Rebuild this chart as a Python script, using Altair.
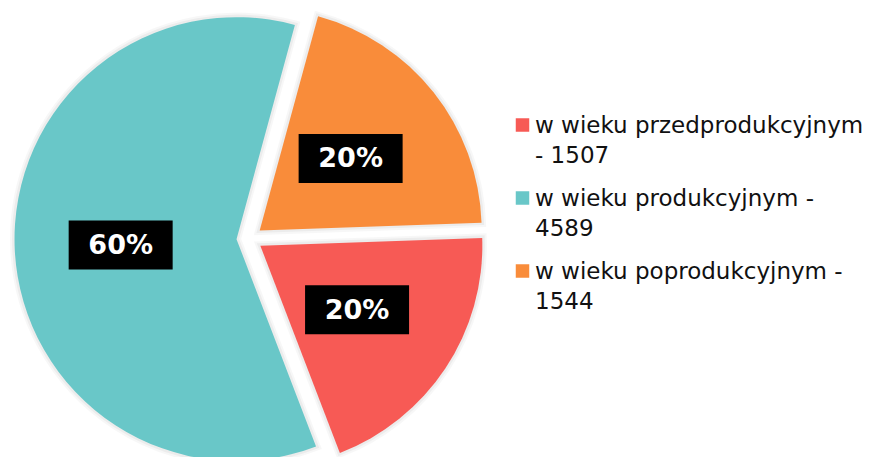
import math
import altair as alt
import pandas as pd

# ---- data ----
categories = ["w wieku przedprodukcyjnym", "w wieku produkcyjnym", "w wieku poprodukcyjnym"]
values = [1507, 4589, 1544]
legend_labels = [
    "w wieku przedprodukcyjnym\n- 1507",
    "w wieku produkcyjnym -\n4589",
    "w wieku poprodukcyjnym -\n1544",
]
colors = ["#F75A55", "#69C7C8", "#F98C3A"]

# ---- layout constants (pixels) ----
W, H = 867, 449
CX, CY = 241.5, 230.5   # pie centre
R = 222                 # pie radius
D = 13                  # explode distance
LR = 116                # label distance from slice centre
BW, BH = 104, 49        # label box size
START = math.radians(88)

df = pd.DataFrame({
    "category": categories,
    "value": values,
    "order": list(range(len(categories))),
    "legend": legend_labels,
})

base = alt.Chart(df).transform_joinaggregate(
    total="sum(value)"
).transform_window(
    cum="sum(value)", sort=[alt.SortField("order")], frame=[None, 0]
).transform_calculate(
    f1="datum.cum / datum.total",
    f0="(datum.cum - datum.value) / datum.total",
    pct="datum.value / datum.total",
).transform_calculate(
    mid=f"{START} + PI*(datum.f0 + datum.f1)",
).transform_calculate(
    cx=f"{CX} + {D}*sin(datum.mid)",
    cy=f"{CY} - {D}*cos(datum.mid)",
).transform_calculate(
    lx=f"datum.cx + {LR}*sin(datum.mid)",
    ly=f"datum.cy - {LR}*cos(datum.mid)",
    pct_label="format(datum.pct, '.0%')",
).transform_calculate(
    bx0=f"datum.lx - {BW/2}", bx1=f"datum.lx + {BW/2}",
    by0=f"datum.ly - {BH/2}", by1=f"datum.ly + {BH/2}",
)

theta_scale = alt.Scale(domain=[0, 1], range=[START, START + 2 * math.pi])
color_scale = alt.Scale(domain=categories, range=colors)

arc_enc = dict(
    x=alt.X("cx:Q", scale=None),
    y=alt.Y("cy:Q", scale=None),
    theta=alt.Theta("f0:Q", scale=theta_scale),
    theta2="f1:Q",
)

shadow1 = base.mark_arc(radius=R, fillOpacity=0, stroke="#000000",
                        strokeWidth=9, strokeOpacity=0.03).encode(**arc_enc)
shadow2 = base.mark_arc(radius=R, fillOpacity=0, stroke="#000000",
                        strokeWidth=5, strokeOpacity=0.045).encode(**arc_enc)
slices = base.mark_arc(radius=R).encode(
    color=alt.Color("category:N", scale=color_scale, legend=None),
    **arc_enc,
)

boxes = base.mark_rect(color="#000000").encode(
    x=alt.X("bx0:Q", scale=None), x2="bx1:Q",
    y=alt.Y("by0:Q", scale=None), y2="by1:Q",
)
pct_text = base.mark_text(
    font="DejaVu Sans", fontWeight="bold", fontSize=27, color="white",
    align="center", baseline="middle", dy=1,
).encode(
    x=alt.X("lx:Q", scale=None), y=alt.Y("ly:Q", scale=None), text="pct_label:N"
)

# ---- manual legend ----
leg_y = alt.Y("order:Q", scale=alt.Scale(domain=[0, 2], range=[117, 263]), axis=None)
leg_sq = alt.Chart(df).mark_square(size=182, opacity=1).encode(
    x=alt.value(514.5),
    y=leg_y,
    color=alt.Color("category:N", scale=color_scale, legend=None),
)
leg_txt = alt.Chart(df).mark_text(
    font="DejaVu Sans", fontSize=23, color="#111111", align="left",
    baseline="alphabetic", lineBreak="\n", lineHeight=30, dy=8,
).encode(
    x=alt.value(527),
    y=leg_y,
    text="legend:N",
)

chart = alt.layer(shadow1, shadow2, slices, boxes, pct_text, leg_sq, leg_txt).properties(
    width=W, height=H, padding=0, autosize=alt.AutoSizeParams(type="none"),
    background="white",
).resolve_scale(y="independent").configure_view(stroke=None)

chart.save("out.html", embed_options={"renderer": "svg", "actions": False})
